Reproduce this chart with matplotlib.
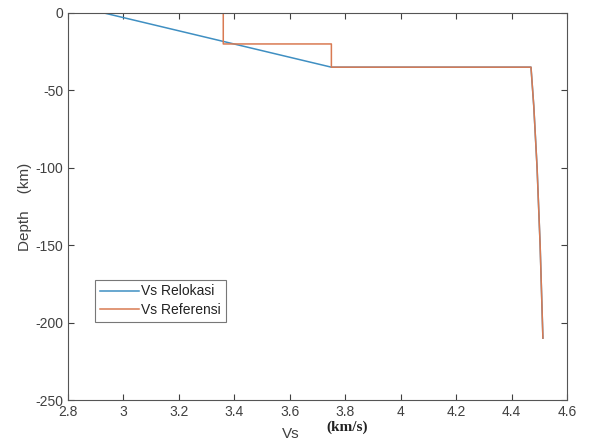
import matplotlib
matplotlib.use('Agg')
import matplotlib.pyplot as plt

# velocity profiles (km/s) against depth (km)
vs_relokasi = [2.93, 3.75, 4.47, 4.48, 4.492, 4.503, 4.513]
depth_relokasi = [0, -35, -35, -60, -100, -150, -210]

vs_referensi = [3.36, 3.36, 3.75, 3.75, 4.47, 4.48, 4.492, 4.503, 4.513]
depth_referensi = [0, -20, -20, -35, -35, -60, -100, -150, -210]

xticks = [2.8, 3.0, 3.2, 3.4, 3.6, 3.8, 4.0, 4.2, 4.4, 4.6]
xticklabels = ['2.8', '3', '3.2', '3.4', '3.6', '3.8', '4', '4.2', '4.4', '4.6']
yticks = [0, -50, -100, -150, -200, -250]

BLUE = '#3f8fc2'
ORANGE = '#d97a52'
GREY = '#404040'

plt.rcParams['font.family'] = ['Liberation Sans', 'DejaVu Sans']
plt.rcParams['axes.unicode_minus'] = False

fig = plt.figure(figsize=(5.93, 4.48), dpi=100)
ax = fig.add_axes([0.1147, 0.107, 0.8415, 0.864])

ax.plot(vs_relokasi, depth_relokasi, color=BLUE, lw=1.1, label='Vs Relokasi')
ax.plot(vs_referensi, depth_referensi, color=ORANGE, lw=1.1, label='Vs Referensi')

ax.set_xlim(2.8, 4.6)
ax.set_ylim(-250, 0)
ax.set_xticks(xticks)
ax.set_xticklabels(xticklabels)
ax.set_yticks(yticks)
ax.tick_params(direction='in', top=True, right=True, length=4, width=0.8,
               labelsize=10, colors=GREY, labelcolor=GREY)
for s in ax.spines.values():
    s.set_color('#555555')
    s.set_linewidth(0.8)

ax.set_ylabel('Depth    (km)', fontsize=11, color=GREY, labelpad=2)
fig.text(0.49, 0.015, 'Vs', fontsize=11, color=GREY, ha='center', va='bottom')
fig.text(0.585, 0.032, '(km/s)', fontsize=11, fontweight='bold', family='Liberation Serif',
         color='#222222', ha='center', va='bottom')

leg = ax.legend(loc='lower left', bbox_to_anchor=(0.04, 0.185), fontsize=10,
                frameon=True, fancybox=False, edgecolor='#555555',
                handlelength=2.8, borderpad=0.35, labelspacing=0.3, handletextpad=0.2)
leg.get_frame().set_linewidth(0.8)
for t in leg.get_texts():
    t.set_color('#222222')

fig.savefig('out.png', dpi=100, facecolor='white')
